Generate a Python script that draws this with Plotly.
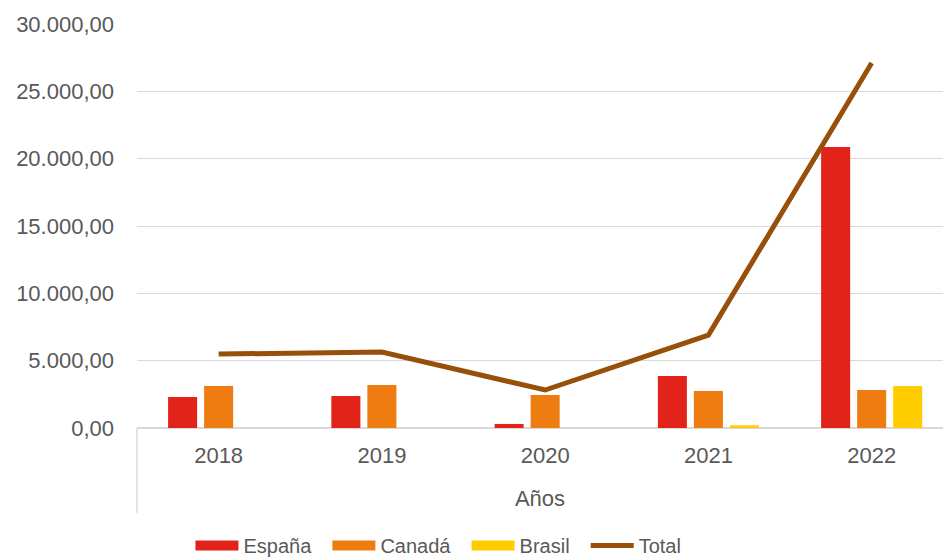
import plotly.graph_objects as go

years = ["2018", "2019", "2020", "2021", "2022"]
espana = [2300, 2380, 300, 3860, 20860]
canada = [3120, 3190, 2450, 2750, 2820]
brasil = [0, 0, 0, 200, 3120]
total = [5490, 5640, 2820, 6900, 27100]

series_names = ["España", "Canadá", "Brasil"]
series_values = [espana, canada, brasil]
series_colors = ["#E2231A", "#EE7C11", "#FFCC00"]

font_family = "Liberation Sans, Arial, sans-serif"
grey = "#595959"
pad = "\u00a0\u00a0"

fig = go.Figure()
for name, vals, col in zip(series_names, series_values, series_colors):
    fig.add_trace(go.Bar(name=name, x=years, y=vals, legendgroup=name, showlegend=False,
                         marker=dict(color=col, line=dict(width=0))))
for name, col in zip(series_names, series_colors):
    # legend-only entry drawn as a wide swatch
    fig.add_trace(go.Scatter(name=name + pad, x=[None], y=[None], mode="lines", legendgroup=name,
                             line=dict(color=col, width=13)))
fig.add_trace(go.Scatter(name="Total", x=years, y=total, mode="lines",
                         line=dict(color="#974F0A", width=5)))

fig.update_layout(
    width=943, height=558,
    margin=dict(l=137, r=0, t=24, b=130, autoexpand=False),
    paper_bgcolor="white", plot_bgcolor="white",
    barmode="group", bargap=0.338, bargroupgap=0.194,
    separators=",.",
    font=dict(family=font_family, color=grey, size=22),
    showlegend=True,
    legend=dict(orientation="h", x=0.374, xanchor="center", y=-0.291, yanchor="middle",
                font=dict(size=20, color=grey), traceorder="normal",
                itemwidth=43, tracegroupgap=0),
    xaxis=dict(range=[-0.5, 4.437], autorange=False, showgrid=False, showline=False, ticks="",
               tickfont=dict(size=22, color=grey),
               ticklabelstandoff=12, automargin=False,
               title=dict(text="Años", font=dict(size=22, color=grey), standoff=23)),
    yaxis=dict(range=[0, 30000], dtick=5000, tickformat=",.2f", showgrid=True,
               gridcolor="#D9D9D9", gridwidth=1.3, zeroline=True, zerolinecolor="#D9D9D9",
               zerolinewidth=1.5, showline=False, ticks="", ticklabelstandoff=22,
               automargin=False, tickfont=dict(size=22, color=grey)),
)
fig.add_shape(type="line", xref="paper", yref="paper", x0=0, x1=0, y0=0, y1=-0.21,
              line=dict(color="#D9D9D9", width=1.5))

fig.write_html("out.html", config={"displayModeBar": False},
               post_script="document.body.style.margin='0';")
